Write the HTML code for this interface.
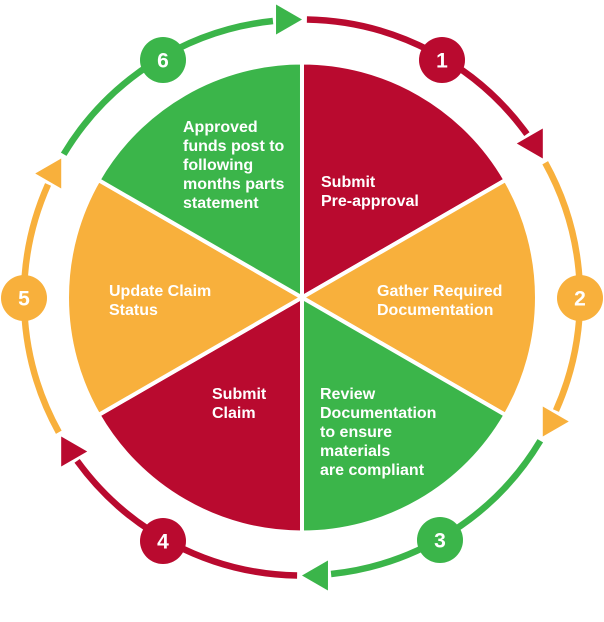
<!DOCTYPE html>
<html><head><meta charset="utf-8"><style>
html,body{margin:0;padding:0;background:#fff;}
svg{display:block;}
text{font-family:"Liberation Sans",sans-serif;fill:#fff;}
.t{font-size:16px;font-weight:bold;}
.n{font-size:21px;font-weight:bold;text-anchor:middle;}
</style></head><body>
<svg width="604" height="622" viewBox="0 0 604 622" xmlns="http://www.w3.org/2000/svg">
<defs>
<g id="wedge"><path d="M302 297.5 L302 62.5 A235 235 0 0 1 505.5 180 Z" stroke="#fff" stroke-width="4" stroke-linejoin="round"/></g>
<g id="seg">
<path d="M306.9 19.5 A278 278 0 0 1 526.9 134.1" fill="none" stroke-width="6.5"/>
<polygon points="542.8,158.5 542.8,128.5 516.8,143.5" stroke="none"/>
</g>
</defs>
<use href="#wedge" fill="#b90a2f"/>
<use href="#wedge" fill="#f8b03c" transform="rotate(60 302 297.5)"/>
<use href="#wedge" fill="#3bb54a" transform="rotate(120 302 297.5)"/>
<use href="#wedge" fill="#b90a2f" transform="rotate(180 302 297.5)"/>
<use href="#wedge" fill="#f8b03c" transform="rotate(240 302 297.5)"/>
<use href="#wedge" fill="#3bb54a" transform="rotate(300 302 297.5)"/>
<use href="#seg" stroke="#b90a2f" fill="#b90a2f"/>
<use href="#seg" stroke="#f8b03c" fill="#f8b03c" transform="rotate(60 302 297.5)"/>
<use href="#seg" stroke="#3bb54a" fill="#3bb54a" transform="rotate(120 302 297.5)"/>
<use href="#seg" stroke="#b90a2f" fill="#b90a2f" transform="rotate(180 302 297.5)"/>
<use href="#seg" stroke="#f8b03c" fill="#f8b03c" transform="rotate(240 302 297.5)"/>
<use href="#seg" stroke="#3bb54a" fill="#3bb54a" transform="rotate(300 302 297.5)"/>
<circle cx="442" cy="60" r="23" fill="#b90a2f"/><text class="n" x="442" y="67.5">1</text>
<circle cx="580" cy="298" r="23" fill="#f8b03c"/><text class="n" x="580" y="305.5">2</text>
<circle cx="440" cy="540" r="23" fill="#3bb54a"/><text class="n" x="440" y="547.5">3</text>
<circle cx="163" cy="541" r="23" fill="#b90a2f"/><text class="n" x="163" y="548.5">4</text>
<circle cx="24" cy="298" r="23" fill="#f8b03c"/><text class="n" x="24" y="305.5">5</text>
<circle cx="163" cy="60" r="23" fill="#3bb54a"/><text class="n" x="163" y="67.5">6</text>
<text class="t" x="183" y="132">Approved</text>
<text class="t" x="183" y="151">funds post to</text>
<text class="t" x="183" y="170">following</text>
<text class="t" x="183" y="189">months parts</text>
<text class="t" x="183" y="208">statement</text>
<text class="t" x="321" y="187">Submit</text>
<text class="t" x="321" y="206">Pre-approval</text>
<text class="t" x="377" y="296">Gather Required</text>
<text class="t" x="377" y="315">Documentation</text>
<text class="t" x="320" y="399">Review</text>
<text class="t" x="320" y="418">Documentation</text>
<text class="t" x="320" y="437">to ensure</text>
<text class="t" x="320" y="456">materials</text>
<text class="t" x="320" y="475">are compliant</text>
<text class="t" x="212" y="399">Submit</text>
<text class="t" x="212" y="418">Claim</text>
<text class="t" x="109" y="296">Update Claim</text>
<text class="t" x="109" y="315">Status</text>
</svg>
</body></html>
